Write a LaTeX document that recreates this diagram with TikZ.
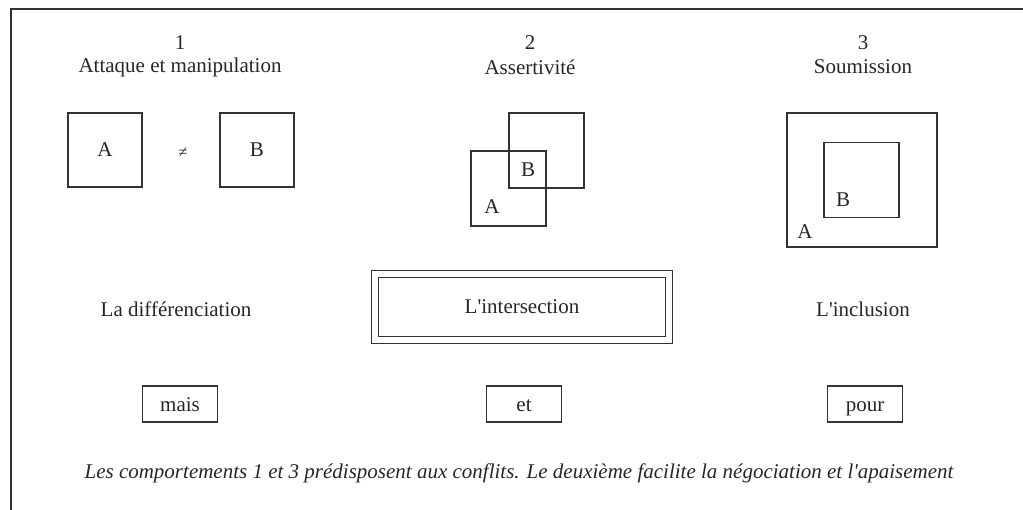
\documentclass[tikz,border=0pt]{standalone}
\usepackage{fontspec}
\setmainfont{Liberation Serif}
\usepackage{tikz}
\usetikzlibrary{positioning}

\begin{document}
\begin{tikzpicture}[x=1pt, y=-1pt,
	every node/.style={font=\fontsize{21}{25}\selectfont, text=black!85},
	carre/.style={draw=black!80, line width=1.2pt, inner sep=0pt, minimum size=#1},
	mot/.style={draw=black!80, line width=1.2pt, minimum width=75pt, minimum height=36pt, inner sep=0pt, text height=20pt, text depth=4pt}]
	\useasboundingbox (0,0) rectangle (1023,510);
	\draw[black!80, line width=1.2pt] (11,510) -- (11,9) -- (1023,9);
	% titres
	\node (n1) at (180,43) {1};
	\node (t1) at (180,67) {Attaque et manipulation};
	\node (n2) at (530,43) {2};
	\node (t2) at (530,67) {Assertivité};
	\node (n3) at (863,43) {3};
	\node (t3) at (863,67) {Soumission};
	% differenciation
	\node[carre=74pt] (a1) at (105,150) {A};
	\node[font=\fontsize{16}{16}\selectfont] (neq) at (183,153) {≠};
	\node[carre=74pt] (b1) at (257,150) {B};
	% intersection
	\node[carre=75pt] (a2) at (508.5,188.5) {};
	\node[carre=75pt] (b2) at (546.5,150.5) {};
	\node (la2) at (492,207) {A};
	\node (lb2) at (528,170) {B};
	% inclusion
	\node[draw=black!80, line width=1.2pt, minimum width=150pt, minimum height=134pt, inner sep=0pt] (a3) at (862,180) {};
	\node[carre=75pt] (b3) at (861.5,180) {};
	\node (la3) at (805,232) {A};
	\node (lb3) at (843,200) {B};
	% libelles
	\node (d1) at (176,309) {La différenciation};
	\node[draw=black!80, line width=1.2pt, double, double distance=6pt, minimum width=294pt, minimum height=66pt] (d2) at (522,307) {L\textquotesingle intersection};
	\node (d3) at (863,309) {L\textquotesingle inclusion};
	\node[mot] (m1) at (180,404) {mais};
	\node[mot] (m2) at (524,404) {et};
	\node[mot] (m3) at (865,404) {pour};
	\node (legende) at (519,473) {\itshape Les comportements 1 et 3 prédisposent aux conflits. Le deuxième facilite la négociation et l\textquotesingle apaisement};
\end{tikzpicture}
\end{document}
